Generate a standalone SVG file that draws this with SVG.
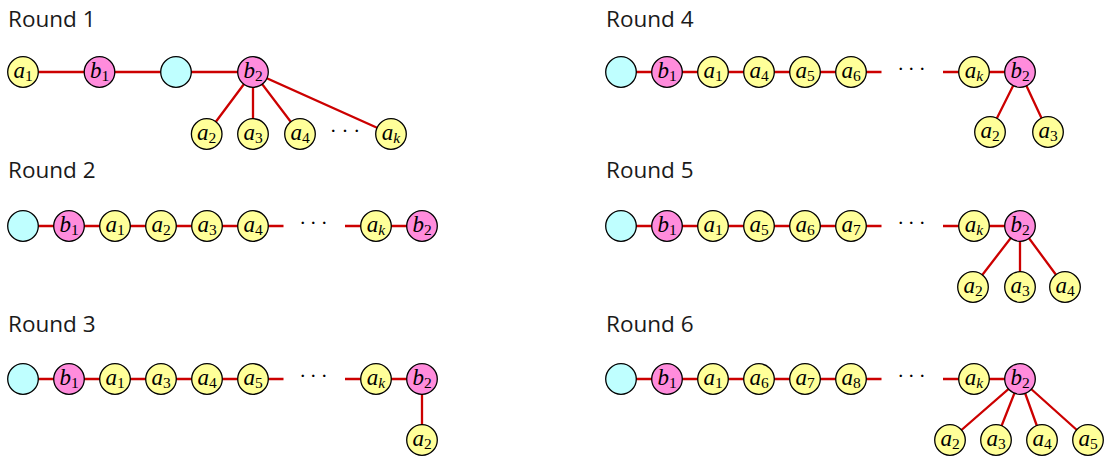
<svg xmlns="http://www.w3.org/2000/svg" width="1110" height="464" viewBox="0 0 1110 464">
<style>
.t{font-family:"Open Sans","Noto Sans",sans-serif;font-size:22.5px;fill:#1a1a1a}
.e{stroke:#cc0000;stroke-width:2.3;fill:none}
.n{stroke:#000;stroke-width:1.3}
.y{fill:#ffff99}
.p{fill:#ff8cdc}
.c{fill:#bfffff}
.l{font-family:"Liberation Serif","DejaVu Serif",serif;font-style:italic;font-size:23px;text-anchor:middle;fill:#000}
.s{font-size:15.5px;font-style:normal}
.k{font-size:15.5px;font-style:italic}
.d{font-family:"Liberation Serif","DejaVu Serif",serif;font-size:21px;text-anchor:middle;fill:#000}
</style>
<rect width="1110" height="464" fill="#fff"/>
<g id="titles">
<text class="t" x="8" y="26.5">Round 1</text>
<text class="t" x="8" y="178.3">Round 2</text>
<text class="t" x="8" y="331.7">Round 3</text>
<text class="t" x="606" y="26.5">Round 4</text>
<text class="t" x="606" y="178.3">Round 5</text>
<text class="t" x="606" y="331.7">Round 6</text>
</g>
<g id="connectors">
<path class="e" d="M23 72H253M253 72L206.7 134M253 72V134M253 72L300 134M253 72L391 134"/>
<path class="e" d="M23 226H283.5M345 226H422"/>
<path class="e" d="M23 379H283.5M345 379H422V440"/>
<path class="e" d="M621 72H881.5M943 72H1020M1020 72L990 132M1020 72L1048 132"/>
<path class="e" d="M621 226H881.5M943 226H1020M1020 226L973 287M1020 226V287M1020 226L1065 287"/>
<path class="e" d="M621 379H881.5M943 379H1020M1020 379L950 440M1020 379L996 440M1020 379L1042 440M1020 379L1088 440"/>
</g>
<g id="dots">
<text class="d" x="333.3 345 356.7" y="138">···</text>
<text class="d" x="302.7 313.3 324.3" y="230">···</text>
<text class="d" x="302.7 313.3 324.3" y="383">···</text>
<text class="d" x="900.7 911.3 922.3" y="76">···</text>
<text class="d" x="900.7 911.3 922.3" y="230">···</text>
<text class="d" x="900.7 911.3 922.3" y="383">···</text>
</g>
<g id="r1-a1"><circle class="n y" cx="23" cy="72" r="15.3"/><text class="l" x="23" y="77.5">a<tspan class="s" dy="3.5">1</tspan></text></g>
<g id="r1-b1"><circle class="n p" cx="99.5" cy="72" r="15.3"/><text class="l" x="99.5" y="77.5">b<tspan class="s" dy="3.5">1</tspan></text></g>
<g id="r1-c"><circle class="n c" cx="176" cy="72" r="15.3"/></g>
<g id="r1-b2"><circle class="n p" cx="253" cy="72" r="15.3"/><text class="l" x="253" y="77.5">b<tspan class="s" dy="3.5">2</tspan></text></g>
<g id="r1-a2"><circle class="n y" cx="206.7" cy="134" r="15.3"/><text class="l" x="206.7" y="139.5">a<tspan class="s" dy="3.5">2</tspan></text></g>
<g id="r1-a3"><circle class="n y" cx="253" cy="134" r="15.3"/><text class="l" x="253" y="139.5">a<tspan class="s" dy="3.5">3</tspan></text></g>
<g id="r1-a4"><circle class="n y" cx="300" cy="134" r="15.3"/><text class="l" x="300" y="139.5">a<tspan class="s" dy="3.5">4</tspan></text></g>
<g id="r1-ak"><circle class="n y" cx="391" cy="134" r="15.3"/><text class="l" x="391" y="139.5">a<tspan class="k" dy="3.5">k</tspan></text></g>
<g id="r2-c"><circle class="n c" cx="23" cy="226" r="15.3"/></g>
<g id="r2-b1"><circle class="n p" cx="69" cy="226" r="15.3"/><text class="l" x="69" y="231.5">b<tspan class="s" dy="3.5">1</tspan></text></g>
<g id="r2-a1"><circle class="n y" cx="115" cy="226" r="15.3"/><text class="l" x="115" y="231.5">a<tspan class="s" dy="3.5">1</tspan></text></g>
<g id="r2-a2"><circle class="n y" cx="161" cy="226" r="15.3"/><text class="l" x="161" y="231.5">a<tspan class="s" dy="3.5">2</tspan></text></g>
<g id="r2-a3"><circle class="n y" cx="207" cy="226" r="15.3"/><text class="l" x="207" y="231.5">a<tspan class="s" dy="3.5">3</tspan></text></g>
<g id="r2-a4"><circle class="n y" cx="253" cy="226" r="15.3"/><text class="l" x="253" y="231.5">a<tspan class="s" dy="3.5">4</tspan></text></g>
<g id="r2-ak"><circle class="n y" cx="376" cy="226" r="15.3"/><text class="l" x="376" y="231.5">a<tspan class="k" dy="3.5">k</tspan></text></g>
<g id="r2-b2"><circle class="n p" cx="422" cy="226" r="15.3"/><text class="l" x="422" y="231.5">b<tspan class="s" dy="3.5">2</tspan></text></g>
<g id="r3-c"><circle class="n c" cx="23" cy="379" r="15.3"/></g>
<g id="r3-b1"><circle class="n p" cx="69" cy="379" r="15.3"/><text class="l" x="69" y="384.5">b<tspan class="s" dy="3.5">1</tspan></text></g>
<g id="r3-a1"><circle class="n y" cx="115" cy="379" r="15.3"/><text class="l" x="115" y="384.5">a<tspan class="s" dy="3.5">1</tspan></text></g>
<g id="r3-a3"><circle class="n y" cx="161" cy="379" r="15.3"/><text class="l" x="161" y="384.5">a<tspan class="s" dy="3.5">3</tspan></text></g>
<g id="r3-a4"><circle class="n y" cx="207" cy="379" r="15.3"/><text class="l" x="207" y="384.5">a<tspan class="s" dy="3.5">4</tspan></text></g>
<g id="r3-a5"><circle class="n y" cx="253" cy="379" r="15.3"/><text class="l" x="253" y="384.5">a<tspan class="s" dy="3.5">5</tspan></text></g>
<g id="r3-ak"><circle class="n y" cx="376" cy="379" r="15.3"/><text class="l" x="376" y="384.5">a<tspan class="k" dy="3.5">k</tspan></text></g>
<g id="r3-b2"><circle class="n p" cx="422" cy="379" r="15.3"/><text class="l" x="422" y="384.5">b<tspan class="s" dy="3.5">2</tspan></text></g>
<g id="r3-a2"><circle class="n y" cx="422" cy="440" r="15.3"/><text class="l" x="422" y="445.5">a<tspan class="s" dy="3.5">2</tspan></text></g>
<g id="r4-c"><circle class="n c" cx="621" cy="72" r="15.3"/></g>
<g id="r4-b1"><circle class="n p" cx="667" cy="72" r="15.3"/><text class="l" x="667" y="77.5">b<tspan class="s" dy="3.5">1</tspan></text></g>
<g id="r4-a1"><circle class="n y" cx="713" cy="72" r="15.3"/><text class="l" x="713" y="77.5">a<tspan class="s" dy="3.5">1</tspan></text></g>
<g id="r4-a4"><circle class="n y" cx="759" cy="72" r="15.3"/><text class="l" x="759" y="77.5">a<tspan class="s" dy="3.5">4</tspan></text></g>
<g id="r4-a5"><circle class="n y" cx="805" cy="72" r="15.3"/><text class="l" x="805" y="77.5">a<tspan class="s" dy="3.5">5</tspan></text></g>
<g id="r4-a6"><circle class="n y" cx="851" cy="72" r="15.3"/><text class="l" x="851" y="77.5">a<tspan class="s" dy="3.5">6</tspan></text></g>
<g id="r4-ak"><circle class="n y" cx="974" cy="72" r="15.3"/><text class="l" x="974" y="77.5">a<tspan class="k" dy="3.5">k</tspan></text></g>
<g id="r4-b2"><circle class="n p" cx="1020" cy="72" r="15.3"/><text class="l" x="1020" y="77.5">b<tspan class="s" dy="3.5">2</tspan></text></g>
<g id="r4-a2"><circle class="n y" cx="990" cy="132" r="15.3"/><text class="l" x="990" y="137.5">a<tspan class="s" dy="3.5">2</tspan></text></g>
<g id="r4-a3"><circle class="n y" cx="1048" cy="132" r="15.3"/><text class="l" x="1048" y="137.5">a<tspan class="s" dy="3.5">3</tspan></text></g>
<g id="r5-c"><circle class="n c" cx="621" cy="226" r="15.3"/></g>
<g id="r5-b1"><circle class="n p" cx="667" cy="226" r="15.3"/><text class="l" x="667" y="231.5">b<tspan class="s" dy="3.5">1</tspan></text></g>
<g id="r5-a1"><circle class="n y" cx="713" cy="226" r="15.3"/><text class="l" x="713" y="231.5">a<tspan class="s" dy="3.5">1</tspan></text></g>
<g id="r5-a5"><circle class="n y" cx="759" cy="226" r="15.3"/><text class="l" x="759" y="231.5">a<tspan class="s" dy="3.5">5</tspan></text></g>
<g id="r5-a6"><circle class="n y" cx="805" cy="226" r="15.3"/><text class="l" x="805" y="231.5">a<tspan class="s" dy="3.5">6</tspan></text></g>
<g id="r5-a7"><circle class="n y" cx="851" cy="226" r="15.3"/><text class="l" x="851" y="231.5">a<tspan class="s" dy="3.5">7</tspan></text></g>
<g id="r5-ak"><circle class="n y" cx="974" cy="226" r="15.3"/><text class="l" x="974" y="231.5">a<tspan class="k" dy="3.5">k</tspan></text></g>
<g id="r5-b2"><circle class="n p" cx="1020" cy="226" r="15.3"/><text class="l" x="1020" y="231.5">b<tspan class="s" dy="3.5">2</tspan></text></g>
<g id="r5-a2"><circle class="n y" cx="973" cy="287" r="15.3"/><text class="l" x="973" y="292.5">a<tspan class="s" dy="3.5">2</tspan></text></g>
<g id="r5-a3"><circle class="n y" cx="1020" cy="287" r="15.3"/><text class="l" x="1020" y="292.5">a<tspan class="s" dy="3.5">3</tspan></text></g>
<g id="r5-a4"><circle class="n y" cx="1065" cy="287" r="15.3"/><text class="l" x="1065" y="292.5">a<tspan class="s" dy="3.5">4</tspan></text></g>
<g id="r6-c"><circle class="n c" cx="621" cy="379" r="15.3"/></g>
<g id="r6-b1"><circle class="n p" cx="667" cy="379" r="15.3"/><text class="l" x="667" y="384.5">b<tspan class="s" dy="3.5">1</tspan></text></g>
<g id="r6-a1"><circle class="n y" cx="713" cy="379" r="15.3"/><text class="l" x="713" y="384.5">a<tspan class="s" dy="3.5">1</tspan></text></g>
<g id="r6-a6"><circle class="n y" cx="759" cy="379" r="15.3"/><text class="l" x="759" y="384.5">a<tspan class="s" dy="3.5">6</tspan></text></g>
<g id="r6-a7"><circle class="n y" cx="805" cy="379" r="15.3"/><text class="l" x="805" y="384.5">a<tspan class="s" dy="3.5">7</tspan></text></g>
<g id="r6-a8"><circle class="n y" cx="851" cy="379" r="15.3"/><text class="l" x="851" y="384.5">a<tspan class="s" dy="3.5">8</tspan></text></g>
<g id="r6-ak"><circle class="n y" cx="974" cy="379" r="15.3"/><text class="l" x="974" y="384.5">a<tspan class="k" dy="3.5">k</tspan></text></g>
<g id="r6-b2"><circle class="n p" cx="1020" cy="379" r="15.3"/><text class="l" x="1020" y="384.5">b<tspan class="s" dy="3.5">2</tspan></text></g>
<g id="r6-a2"><circle class="n y" cx="950" cy="440" r="15.3"/><text class="l" x="950" y="445.5">a<tspan class="s" dy="3.5">2</tspan></text></g>
<g id="r6-a3"><circle class="n y" cx="996" cy="440" r="15.3"/><text class="l" x="996" y="445.5">a<tspan class="s" dy="3.5">3</tspan></text></g>
<g id="r6-a4"><circle class="n y" cx="1042" cy="440" r="15.3"/><text class="l" x="1042" y="445.5">a<tspan class="s" dy="3.5">4</tspan></text></g>
<g id="r6-a5"><circle class="n y" cx="1088" cy="440" r="15.3"/><text class="l" x="1088" y="445.5">a<tspan class="s" dy="3.5">5</tspan></text></g>
</svg>
